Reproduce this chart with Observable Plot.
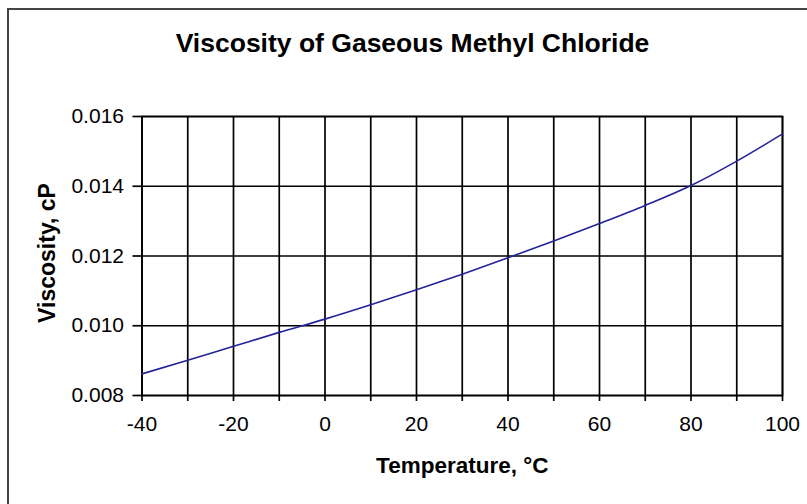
<!DOCTYPE html>
<html>
<head>
<meta charset="utf-8">
<script src="https://cdn.jsdelivr.net/npm/d3@7"></script>
<script src="https://cdn.jsdelivr.net/npm/@observablehq/plot@0.6"></script>
<style>
  html, body { margin: 0; padding: 0; background: #fff; overflow: hidden; width: 807px; height: 504px; }
  #wrap { position: relative; width: 807px; height: 504px; }
  #border { position: absolute; left: 7px; top: 8px; width: 900px; height: 600px; border: 2px solid #444; box-sizing: border-box; }
  #title { position: relative; height: 80px; box-sizing: border-box; padding-top: 30px; padding-left: 18px;
           font: bold 26.5px "Liberation Sans", Arial, sans-serif; line-height: 26px; text-align: center; color: #000; }
  #chart svg { display: block; }
</style>
</head>
<body>
<div id="wrap">
  <div id="border"></div>
  <div id="title">Viscosity of Gaseous Methyl Chloride</div>
  <div id="chart"></div>
</div>
<script>
// Data
const temperatures = [-40, -30, -20, -10, 0, 10, 20, 30, 40, 50, 60, 70, 80, 90, 100];
const viscosity = [0.00862, 0.00901, 0.00941, 0.00981, 0.01019, 0.01060, 0.01103, 0.01148, 0.01195, 0.01243, 0.01293, 0.01345, 0.01402, 0.01472, 0.01550];
const xTicks = [-40, -30, -20, -10, 0, 10, 20, 30, 40, 50, 60, 70, 80, 90, 100];
const xTickLabels = ["-40", "", "-20", "", "0", "", "20", "", "40", "", "60", "", "80", "", "100"];
const yTicks = [0.008, 0.010, 0.012, 0.014, 0.016];
const yTickLabels = ["0.008", "0.010", "0.012", "0.014", "0.016"];
const xTitle = "Temperature, °C";
const yTitle = "Viscosity, cP";

const data = temperatures.map((t, i) => ({t, v: viscosity[i]}));

const chart = Plot.plot({
  width: 807,
  height: 424,
  marginTop: 36,
  marginBottom: 109,
  marginLeft: 141.5,
  marginRight: 25,
  style: {fontFamily: '"Liberation Sans", Arial, sans-serif', fontSize: "21px", color: "#000", background: "transparent", overflow: "visible"},
  x: {domain: [-40, 100]},
  y: {domain: [0.008, 0.016]},
  marks: [
    Plot.gridX(xTicks, {stroke: "#000", strokeOpacity: 1, strokeWidth: 1.7}),
    Plot.gridY(yTicks, {stroke: "#000", strokeOpacity: 1, strokeWidth: 1.7}),
    Plot.frame({stroke: "#000", strokeWidth: 1.7}),
    Plot.axisX(xTicks, {tickSize: 6, tickPadding: 15, strokeWidth: 1.7, tickFormat: d => xTickLabels[xTicks.indexOf(d)], label: null, fill: "#000"}),
    Plot.axisY(yTicks, {tickSize: 9, tickPadding: 9, strokeWidth: 1.7, tickFormat: d => yTickLabels[yTicks.indexOf(d)], label: null, fill: "#000"}),
    Plot.line(data, {x: "t", y: "v", stroke: "#23239a", strokeWidth: 1.6, curve: "monotone-x"}),
    Plot.text([yTitle], {text: d => d, frameAnchor: "left", textAnchor: "middle", rotate: -90, dx: -94, dy: -3, fontWeight: "bold", fontSize: 23, lineAnchor: "middle", fill: "#000"}),
    Plot.text([xTitle], {text: d => d, frameAnchor: "bottom", textAnchor: "middle", dy: 70, fontWeight: "bold", fontSize: 22.5, lineAnchor: "middle", fill: "#000"})
  ]
});
document.getElementById("chart").appendChild(chart);
</script>
</body>
</html>
